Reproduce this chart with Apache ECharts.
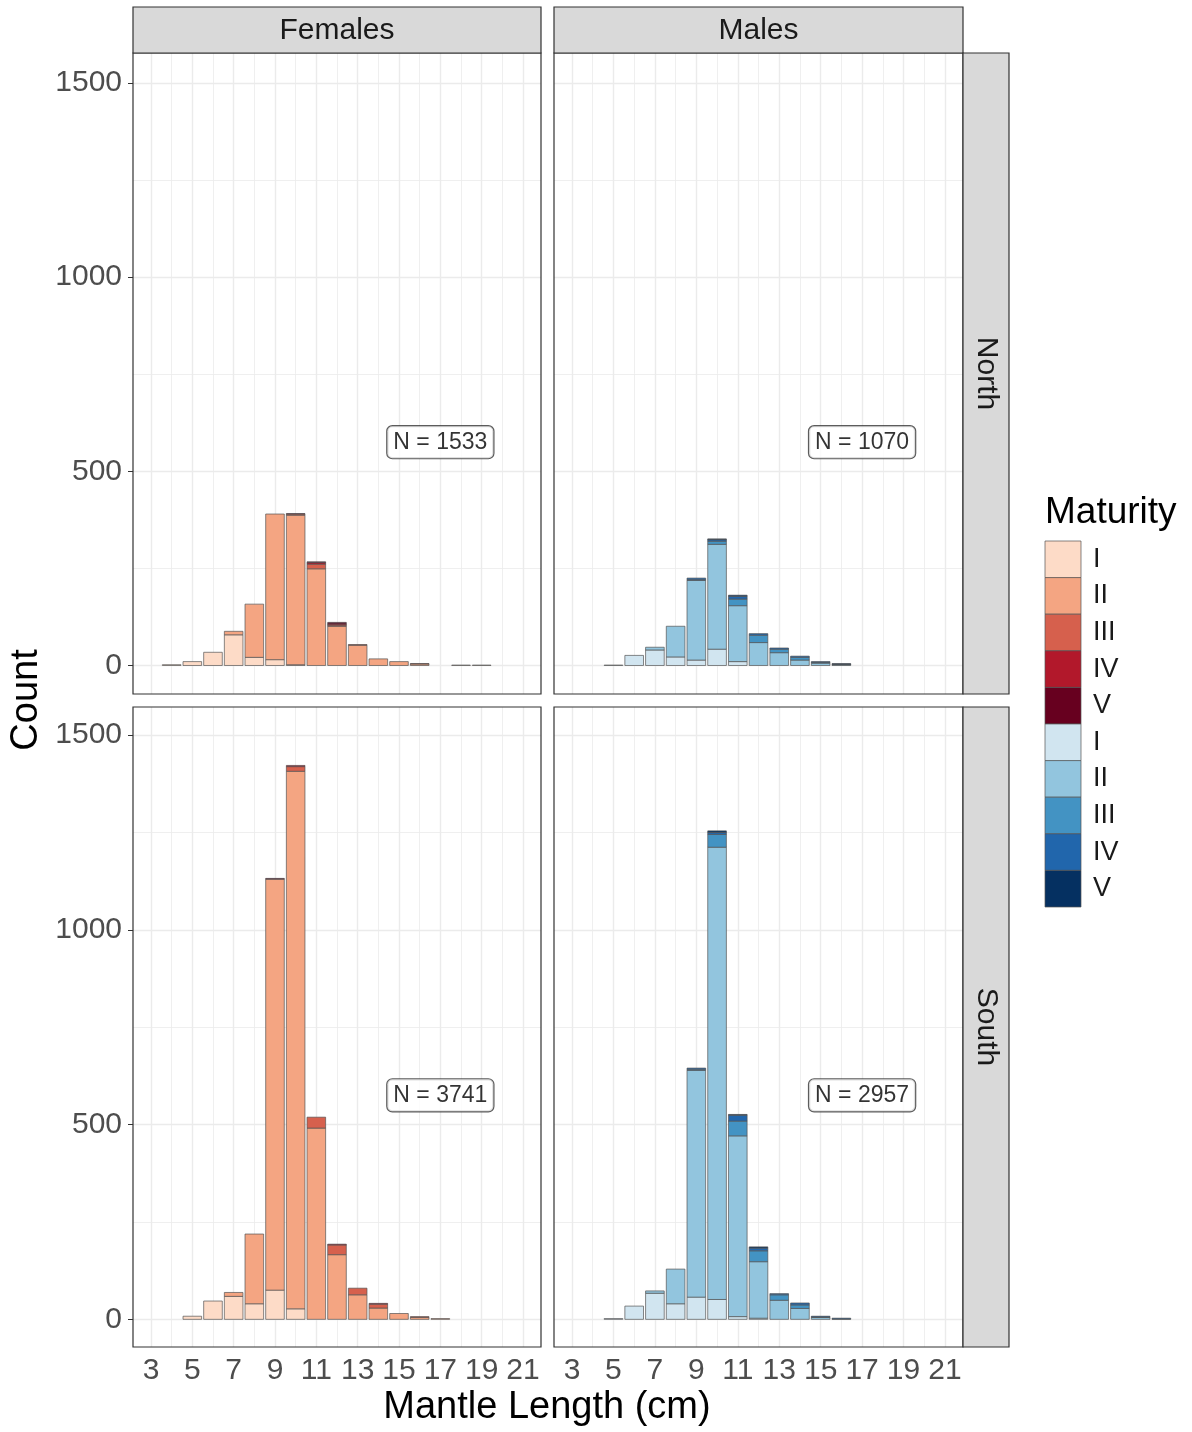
<!DOCTYPE html>
<html>
<head>
<meta charset="utf-8">
<script src="https://cdn.jsdelivr.net/npm/echarts@6/dist/echarts.min.js"></script>
<style>
html,body{margin:0;padding:0;background:#fff;}
#chart{width:1192px;height:1432px;}
</style>
</head>
<body>
<div id="chart"></div>
<script>
// ---------------- data ----------------
const bins = [4,5,6,7,8,9,10,11,12,13,14,15,16,17,18,19];
const stages = ['I','II','III','IV','V'];
const xTicks = [3,5,7,9,11,13,15,17,19,21];
const yTicks = [0,500,1000,1500];
const panels = ['Females North','Males North','Females South','Males South'];
const nLabels = [1533, 1070, 3741, 2957];

// Females, North
const fnI   = [2,10,34,79,21,15,2,0,0,0,0,0,0,0,1,1];
const fnII  = [0,0,0,9,137,375,385,249,101,52,17,10,4,0,0,0];
const fnIII = [0,0,0,0,0,0,3,12,3,2,0,0,1,0,0,0];
const fnIV  = [0,0,0,0,0,0,0,4,3,0,0,0,0,0,0,0];
const fnV   = [0,0,0,0,0,0,1,2,4,0,0,0,0,0,0,0];
// Males, North
const mnI   = [0,1,26,40,22,14,42,10,0,0,0,0,0,0,0,0];
const mnII  = [0,0,0,7,79,205,270,144,59,33,14,6,2,0,0,0];
const mnIII = [0,0,0,0,0,2,8,17,19,9,7,2,1,0,0,0];
const mnIV  = [0,0,0,0,0,4,4,7,4,3,3,2,0,0,0,0];
const mnV   = [0,0,0,0,0,0,2,3,0,0,0,0,2,0,0,0];
// Females, South
const fsI   = [0,8,47,59,40,75,27,0,0,0,0,0,0,0,0,0];
const fsII  = [0,0,0,10,179,1055,1380,491,166,63,29,15,5,2,0,0];
const fsIII = [0,0,0,0,0,0,12,28,25,17,10,0,2,0,0,0];
const fsIV  = [0,0,0,0,0,0,3,0,2,0,2,0,0,0,0,0];
const fsV   = [0,0,0,0,0,2,0,0,0,0,0,0,0,0,0,0];
// Males, South
const msI   = [0,2,34,67,40,57,51,7,3,0,0,0,0,0,0,0];
const msII  = [0,0,0,6,89,582,1161,464,145,49,28,5,1,0,0,0];
const msIII = [0,0,0,0,0,3,33,38,28,14,9,1,0,0,0,0];
const msIV  = [0,0,0,0,0,3,5,15,7,3,5,2,2,0,0,0];
const msV   = [0,0,0,0,0,0,4,2,3,0,0,0,0,0,0,0];

const panelData = [
  [fnI,fnII,fnIII,fnIV,fnV],
  [mnI,mnII,mnIII,mnIV,mnV],
  [fsI,fsII,fsIII,fsIV,fsV],
  [msI,msII,msIII,msIV,msV]
];
const redColors  = ['#fddbc7','#f4a582','#d6604d','#b2182b','#67001f'];
const blueColors = ['#d1e5f0','#92c5de','#4393c3','#2166ac','#053061'];
const panelColors = [redColors, blueColors, redColors, blueColors];

// ---------------- layout ----------------
const FONT = '"Liberation Sans", Arial, sans-serif';
const BAR_W = 0.9;
const grids = [
  {left:133, top:53,  width:408, height:641},
  {left:554, top:53,  width:409, height:641},
  {left:133, top:707, width:408, height:640},
  {left:554, top:707, width:409, height:640}
];
const yRanges = [[-73.4,1577],[-73.4,1577],[-71,1572],[-71,1572]];
const xMin = 2.13, xMax = 21.87;
const gridX = [];
for (let v = 3; v <= 21; v++) gridX.push(v);
const minorY = [250,750,1250];

function barRenderer(color) {
  return function (params, api) {
    const x = api.value(0), v = api.value(1), b = api.value(2);
    const p0 = api.coord([x - BAR_W / 2, b]);
    const p1 = api.coord([x + BAR_W / 2, b + v]);
    return {
      type:'rect',
      shape:{x:p0[0], y:p1[1], width:p1[0] - p0[0], height:p0[1] - p1[1]},
      style:{fill:color, stroke:'#555', lineWidth:0.7}
    };
  };
}

const xAxes = [], yAxes = [], series = [];
grids.forEach((g, p) => {
  const bottomRow = p >= 2, leftCol = p % 2 === 0;
  xAxes.push({
    type:'value', gridIndex:p, min:xMin, max:xMax,
    axisLine:{show:false},
    splitLine:{show:false},
    axisTick:{show:bottomRow, customValues:xTicks, length:5, lineStyle:{color:'#333',width:1}},
    axisLabel:{show:bottomRow, customValues:xTicks, formatter:v => String(v), fontSize:30, color:'#4d4d4d', fontFamily:FONT, margin:9}
  });
  yAxes.push({
    type:'value', gridIndex:p, min:yRanges[p][0], max:yRanges[p][1],
    axisLine:{show:false},
    splitLine:{show:false},
    axisTick:{show:leftCol, customValues:yTicks, length:5, lineStyle:{color:'#333',width:1}},
    axisLabel:{show:leftCol, customValues:yTicks, formatter:v => String(v), fontSize:30, color:'#4d4d4d', fontFamily:FONT, margin:11}
  });
  // gridlines (drawn beneath the bars)
  series.push({
    type:'line', xAxisIndex:p, yAxisIndex:p, data:[], z:1, silent:true,
    markLine:{
      z:1, silent:true, symbol:['none','none'], label:{show:false}, animation:false,
      data: gridX.map(v => ({xAxis:v, lineStyle:{color:'#ebebeb', width:(v % 2 === 1) ? 1.4 : 0.8, type:'solid'}}))
        .concat(yTicks.map(v => ({yAxis:v, lineStyle:{color:'#ebebeb', width:1.4, type:'solid'}})))
        .concat(minorY.map(v => ({yAxis:v, lineStyle:{color:'#ebebeb', width:0.8, type:'solid'}})))
    }
  });
  // stacked bars (cumulative base computed from the stage arrays)
  const base = bins.map(() => 0);
  panelData[p].forEach((arr, s) => {
    const data = [];
    bins.forEach((b, i) => {
      if (arr[i] > 0) data.push([b, arr[i], base[i]]);
      base[i] += arr[i];
    });
    series.push({
      type:'custom', name:panels[p] + ' ' + stages[s], xAxisIndex:p, yAxisIndex:p, z:6,
      renderItem: barRenderer(panelColors[p][s]),
      encode:{x:0, y:1},
      data:data
    });
  });
  // N label
  series.push({
    type:'scatter', xAxisIndex:p, yAxisIndex:p, z:8, symbolSize:1,
    itemStyle:{color:'rgba(0,0,0,0)'},
    data:[[17, 575]],
    label:{
      show:true, position:'inside', formatter:'N = ' + nLabels[p],
      fontSize:23, fontFamily:FONT, color:'#000',
      backgroundColor:'#fff', borderColor:'#333', borderWidth:1.2, borderRadius:5,
      padding:[5,6,4,6]
    }
  });
});

// ---------------- graphics: strips, titles, legend ----------------
const graphic = [];
const stripFill = '#d9d9d9', stripStroke = '#333';
[['Females',133,408],['Males',554,409]].forEach(([t,x,w]) => {
  graphic.push({type:'rect', shape:{x:x, y:7, width:w, height:46}, style:{fill:stripFill, stroke:stripStroke, lineWidth:1.2}, z:10});
  graphic.push({type:'text', x:x + w/2, y:31, style:{text:t, font:'30px ' + FONT, fill:'#1a1a1a', textAlign:'center', textVerticalAlign:'middle'}, z:11});
});
[['North',53,641],['South',707,640]].forEach(([t,y,h]) => {
  graphic.push({type:'rect', shape:{x:963, y:y, width:46, height:h}, style:{fill:stripFill, stroke:stripStroke, lineWidth:1.2}, z:10});
  graphic.push({type:'text', x:986, y:y + h/2, rotation:-Math.PI/2, style:{text:t, font:'30px ' + FONT, fill:'#1a1a1a', textAlign:'center', textVerticalAlign:'middle'}, z:11});
});
// panel borders on top
grids.forEach(g => {
  graphic.push({type:'rect', shape:{x:g.left, y:g.top, width:g.width, height:g.height}, style:{fill:'none', stroke:'#333', lineWidth:1.2}, z:9, silent:true});
});
// axis titles
graphic.push({type:'text', x:547, y:1408, style:{text:'Mantle Length (cm)', font:'38px ' + FONT, fill:'#000', textAlign:'center', textVerticalAlign:'middle'}});
graphic.push({type:'text', x:27, y:700, rotation:Math.PI/2, style:{text:'Count', font:'38px ' + FONT, fill:'#000', textAlign:'center', textVerticalAlign:'middle'}});
// legend
graphic.push({type:'text', x:1045, y:513, style:{text:'Maturity', font:'37px ' + FONT, fill:'#000', textAlign:'left', textVerticalAlign:'middle'}});
const legendColors = redColors.concat(blueColors);
const keyH = 36.6;
legendColors.forEach((c, i) => {
  const y = 541 + i * keyH;
  graphic.push({type:'rect', shape:{x:1045, y:y, width:36, height:keyH}, style:{fill:c, stroke:'#555', lineWidth:0.7}});
  graphic.push({type:'text', x:1093, y:y + keyH/2, style:{text:stages[i % 5], font:'27px ' + FONT, fill:'#1a1a1a', textAlign:'left', textVerticalAlign:'middle'}});
});

const chart = echarts.init(document.getElementById('chart'), null, {renderer:'canvas'});
chart.setOption({
  animation:false,
  backgroundColor:'#fff',
  grid: grids.map(g => Object.assign({show:true, backgroundColor:'#fff', borderColor:'#333', borderWidth:0}, g)),
  xAxis: xAxes,
  yAxis: yAxes,
  series: series,
  graphic: graphic
});
</script>
</body>
</html>
